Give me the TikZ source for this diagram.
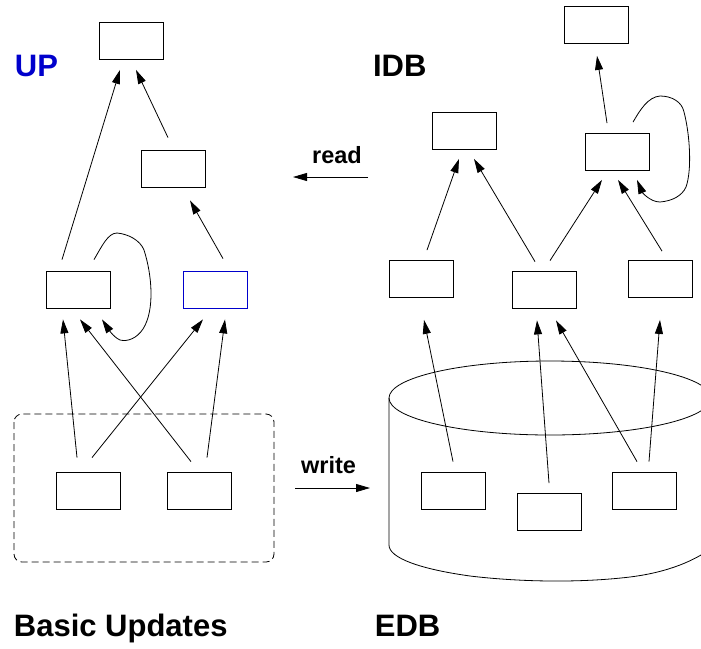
\documentclass[tikz,border=0pt]{standalone}
\usepackage{fontspec}
\setmainfont{Liberation Sans}
\usetikzlibrary{arrows.meta}
\definecolor{upblue}{RGB}{0,0,204}
\tikzset{
  box/.style={draw, minimum width=64pt, minimum height=37pt, inner sep=0pt, line width=0.8pt},
  arr/.style={line width=0.8pt, -{Triangle[length=14pt,width=8pt]}},
  title/.style={inner sep=0pt, anchor=base west, font=\fontsize{31}{31}\selectfont\bfseries},
  small/.style={inner sep=0pt, anchor=base, font=\fontsize{23.5}{24}\selectfont\bfseries},
}
\begin{document}
\begin{tikzpicture}[x=1pt,y=-1pt]
\useasboundingbox (0,0) rectangle (701,648);
\clip (0,0) rectangle (701,648);
% ---------- left panel: UP ----------
\node[box] (LT) at (131,41) {};
\node[box] (LM) at (173,168.5) {};
\node[box] (LL) at (78,289.5) {};
\node[box, draw=upblue] (LB) at (215,289.5) {};
\node[box] (B1) at (88.5,490.5) {};
\node[box] (B2) at (199.5,490.5) {};
\node[title, text=upblue] (up) at (14.7,76) {UP};
\draw[dashed, dash pattern=on 7pt off 4pt, rounded corners=8pt, line width=0.8pt] (14,414) rectangle (274,562);
\node[title] (bu) at (13.7,636.7) {Basic Updates};
\draw[arr] ([xshift=-16,yshift=11]LL.north) -- ([xshift=-11,yshift=-10]LT.south);
\draw[arr] ([xshift=-5,yshift=12]LM.north) -- ([xshift=5,yshift=-10]LT.south);
\draw[arr] ([xshift=8,yshift=12]LB.north) -- ([xshift=17,yshift=-13]LM.south);
\draw[arr] ([xshift=-11.5,yshift=14]B1.north) -- ([xshift=-15,yshift=-11]LL.south);
\draw[arr] ([xshift=3.5,yshift=14]B1.north) -- ([xshift=-12,yshift=-11]LB.south);
\draw[arr] ([xshift=-8.5,yshift=10]B2.north) -- ([xshift=2,yshift=-11]LL.south);
\draw[arr] ([xshift=7.5,yshift=14]B2.north) -- ([xshift=10,yshift=-11]LB.south);
\draw[arr] ([xshift=16,yshift=11]LL.north) .. controls (102,246) and (108,233) .. (117,233)
  .. controls (128,234) and (140,240) .. (144,250)
  .. controls (152,275) and (155,310) .. (143,329)
  .. controls (137,338) and (128,342) .. (120,340)
  .. controls (113,337) and (107,327) .. ([xshift=24,yshift=-11]LL.south);
% ---------- read / write ----------
\coordinate (r1) at (368,177);
\coordinate (r2) at (293,177);
\draw[arr] (r1) -- (r2);
\node[small] (rd) at (337,163.3) {read};
\coordinate (w1) at (295,488);
\coordinate (w2) at (370,488);
\draw[arr] (w1) -- (w2);
\node[small] (wr) at (328.5,473.7) {write};
% ---------- right panel: IDB / EDB ----------
\node[title] (idb) at (372.8,76) {IDB};
\node[title] (edb) at (374.7,636.3) {EDB};
\node[box] (RT) at (596,25) {};
\node[box] (RML) at (464,131) {};
\node[box] (RMR) at (617.5,152) {};
\node[box] (RBL) at (421.5,279) {};
\node[box] (RBM) at (544,289.5) {};
\node[box] (RBR) at (660,279) {};
% cylinder
\draw[line width=0.8pt] (550,398) ellipse [x radius=161, y radius=37];
\draw[line width=0.8pt] (389,398) -- (389,545)
  .. controls (389,558) and (420,569) .. (470,576)
  .. controls (520,582) and (580,583) .. (630,577)
  .. controls (670,572) and (695,560) .. (712,548);
\node[box] (E1) at (453.5,490.5) {};
\node[box] (E2) at (549,512) {};
\node[box] (E3) at (644,490.5) {};
\draw[arr] ([xshift=-10.5,yshift=10]RMR.north) -- ([xshift=1,yshift=-12]RT.south);
\draw[arr] ([xshift=5.5,yshift=10]RBL.north) -- ([xshift=-5,yshift=-9]RML.south);
\draw[arr] ([xshift=-9,yshift=9]RBM.north) -- ([xshift=10,yshift=-9]RML.south);
\draw[arr] ([xshift=6,yshift=10]RBM.north) -- ([xshift=-15.5,yshift=-9]RMR.south);
\draw[arr] ([xshift=2,yshift=9]RBR.north) -- ([xshift=0.5,yshift=-9]RMR.south);
\draw[arr] ([xshift=15.5,yshift=11]RMR.north) .. controls (640,110) and (648,97) .. (660,96)
  .. controls (672,96) and (682,102) .. (684,112)
  .. controls (690,135) and (692,170) .. (686,187)
  .. controls (682,196) and (672,201) .. (660,202)
  .. controls (650,202) and (642,192) .. ([xshift=19.5,yshift=-9]RMR.south);
\draw[arr] ([xshift=-0.5,yshift=10]E1.north) -- ([xshift=2.5,yshift=-22]RBL.south);
\draw[arr] ([xshift=0,yshift=10]E2.north) -- ([xshift=-7,yshift=-12]RBM.south);
\draw[arr] ([xshift=-7,yshift=10]E3.north) -- ([xshift=12,yshift=-12]RBM.south);
\draw[arr] ([xshift=5,yshift=10]E3.north) -- ([xshift=0,yshift=-22]RBR.south);
\end{tikzpicture}
\end{document}
